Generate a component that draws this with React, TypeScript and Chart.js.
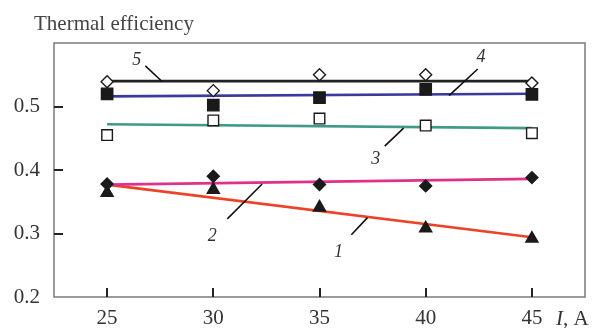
import React, { useEffect, useRef } from "react";
import { Chart, registerables } from "chart.js";

Chart.register(...registerables);

// ---- data ----
const currents = [25, 30, 35, 40, 45];
const eff1 = [0.364, 0.369, 0.341, 0.308, 0.292]; // triangles
const eff2 = [0.378, 0.39, 0.377, 0.375, 0.388]; // filled diamonds
const eff3 = [0.455, 0.478, 0.481, 0.47, 0.458]; // open squares
const eff4 = [0.52, 0.502, 0.514, 0.527, 0.519]; // filled squares
const eff5 = [0.539, 0.525, 0.55, 0.55, 0.537]; // open diamonds
const fitX = [25, 45];
const fit1 = [0.377, 0.294];
const fit2 = [0.377, 0.386];
const fit3 = [0.472, 0.466];
const fit4 = [0.516, 0.52];
const fit5 = [0.54, 0.54];
const xTicks = [25, 30, 35, 40, 45];
const yTicks = [0.2, 0.3, 0.4, 0.5];
const curveNames = ["1", "2", "3", "4", "5"];
const labelX = [35.9, 29.95, 37.65, 42.6, 26.4];
const labelY = [0.27, 0.295, 0.417, 0.578, 0.573];
const leaderX1 = [36.5, 30.66, 38.07, 42.45, 26.8];
const leaderY1 = [0.298, 0.323, 0.4375, 0.559, 0.564];
const leaderX2 = [37.26, 32.3, 38.96, 41.1, 27.6];
const leaderY2 = [0.325, 0.378, 0.466, 0.517, 0.539];
const yTitle = "Thermal efficiency";
const xTitleItalic = "I";
const xTitleRest = ", A";

const SERIF = '"Liberation Serif", "Times New Roman", serif';

const pts = (xs: number[], ys: number[]) => xs.map((x, i) => ({ x, y: ys[i] }));

const overlay = {
  id: "overlay",
  afterDraw(chart: any) {
    const { ctx, chartArea: a } = chart;
    const x = chart.scales.x;
    const y = chart.scales.y;
    ctx.save();
    // frame
    ctx.strokeStyle = "#7a7a7a";
    ctx.lineWidth = 1.5;
    ctx.strokeRect(a.left, a.top, a.right - a.left, a.bottom - a.top);
    // inward ticks
    ctx.strokeStyle = "#222";
    ctx.lineWidth = 2;
    ctx.beginPath();
    xTicks.forEach((v) => {
      const px = Math.round(x.getPixelForValue(v));
      ctx.moveTo(px, a.bottom);
      ctx.lineTo(px, a.bottom - 9);
    });
    yTicks.forEach((v) => {
      if (v <= y.min) return;
      const py = Math.round(y.getPixelForValue(v));
      ctx.moveTo(a.left, py);
      ctx.lineTo(a.left + 9, py);
    });
    ctx.stroke();
    // leaders
    ctx.strokeStyle = "#111";
    ctx.lineWidth = 1.6;
    ctx.beginPath();
    curveNames.forEach((_, i) => {
      ctx.moveTo(x.getPixelForValue(leaderX1[i]), y.getPixelForValue(leaderY1[i]));
      ctx.lineTo(x.getPixelForValue(leaderX2[i]), y.getPixelForValue(leaderY2[i]));
    });
    ctx.stroke();
    // curve labels
    ctx.fillStyle = "#333";
    ctx.font = `italic 18px ${SERIF}`;
    ctx.textAlign = "center";
    ctx.textBaseline = "middle";
    curveNames.forEach((n, i) => {
      ctx.fillText(n, x.getPixelForValue(labelX[i]), y.getPixelForValue(labelY[i]));
    });
    // y title
    ctx.fillStyle = "#444";
    ctx.font = `21px ${SERIF}`;
    ctx.textAlign = "left";
    ctx.textBaseline = "alphabetic";
    ctx.fillText(yTitle, 34, 30);
    // x title
    ctx.fillStyle = "#333";
    ctx.font = `italic 21px ${SERIF}`;
    const xs = 556;
    ctx.fillText(xTitleItalic, xs, 325);
    const w = ctx.measureText(xTitleItalic).width;
    ctx.font = `21px ${SERIF}`;
    ctx.fillText(xTitleRest, xs + w, 325);
    ctx.restore();
  },
};

export default function App() {
  const ref = useRef<HTMLCanvasElement | null>(null);
  useEffect(() => {
    if (!ref.current) return;
    const markerBase = { showLine: false, borderWidth: 1.4, borderColor: "#1a1a1a" };
    const lineBase = { showLine: true, pointRadius: 0, borderWidth: 2.6, fill: false };
    const chart = new Chart(ref.current, {
      type: "scatter",
      data: {
        datasets: [
          { ...markerBase, label: "5", data: pts(currents, eff5), pointStyle: "rectRot", pointRadius: 6, backgroundColor: "#fff" },
          { ...markerBase, label: "4", data: pts(currents, eff4), pointStyle: "rect", pointRadius: 8, backgroundColor: "#1a1a1a" },
          { ...markerBase, label: "3", data: pts(currents, eff3), pointStyle: "rect", pointRadius: 7.5, backgroundColor: "#fff" },
          { ...markerBase, label: "2", data: pts(currents, eff2), pointStyle: "rectRot", pointRadius: 6, backgroundColor: "#1a1a1a" },
          { ...markerBase, label: "1", data: pts(currents, eff1), pointStyle: "triangle", pointRadius: 7, backgroundColor: "#1a1a1a" },
          { ...lineBase, label: "fit5", data: pts(fitX, fit5), borderColor: "#222" },
          { ...lineBase, label: "fit4", data: pts(fitX, fit4), borderColor: "#3a3a9e" },
          { ...lineBase, label: "fit3", data: pts(fitX, fit3), borderColor: "#3f9a87" },
          { ...lineBase, label: "fit2", data: pts(fitX, fit2), borderColor: "#e0308c" },
          { ...lineBase, label: "fit1", data: pts(fitX, fit1), borderColor: "#ee4226" },
        ],
      },
      options: {
        animation: false,
        responsive: false,
        devicePixelRatio: 1,
        layout: { padding: { top: 43, right: 18, left: 0, bottom: 0 } },
        plugins: { legend: { display: false }, tooltip: { enabled: false }, title: { display: false } },
        scales: {
          x: {
            type: "linear",
            min: 22.5,
            max: 47.5,
            grid: { display: false, drawTicks: false },
            border: { display: false },
            afterBuildTicks: (s: any) => {
              s.ticks = xTicks.map((v) => ({ value: v }));
            },
            afterFit: (s: any) => {
              s.height = 31;
            },
            ticks: {
              padding: 9,
              color: "#333",
              font: { family: SERIF, size: 21 },
              maxRotation: 0,
              callback: (v: any) => String(v),
            },
          },
          y: {
            type: "linear",
            min: 0.2,
            max: 0.6,
            grid: { display: false, drawTicks: false },
            border: { display: false },
            afterBuildTicks: (s: any) => {
              s.ticks = yTicks.map((v) => ({ value: v }));
            },
            afterFit: (s: any) => {
              s.width = 54;
            },
            ticks: {
              padding: 14,
              color: "#333",
              font: { family: SERIF, size: 21 },
              callback: (v: any) => Number(v).toFixed(1),
            },
          },
        },
      },
      plugins: [overlay],
    });
    return () => chart.destroy();
  }, []);
  return (
    <div style={{ position: "absolute", left: 0, top: 0, width: 603, height: 328, background: "#fff" }}>
      <canvas ref={ref} width={603} height={328} style={{ display: "block" }} />
    </div>
  );
}
